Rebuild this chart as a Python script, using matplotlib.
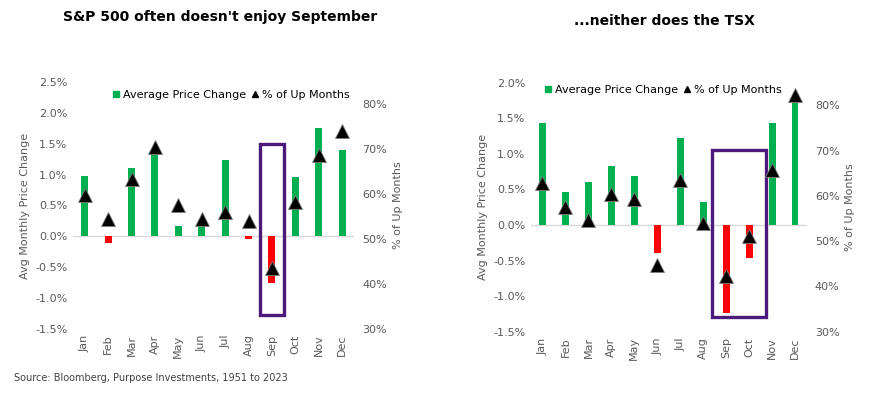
import matplotlib.pyplot as plt
from matplotlib.lines import Line2D
from matplotlib.patches import Rectangle
from matplotlib.ticker import FuncFormatter

months = ['Jan', 'Feb', 'Mar', 'Apr', 'May', 'Jun', 'Jul', 'Aug', 'Sep', 'Oct', 'Nov', 'Dec']

# S&P 500: average monthly price change (%) and % of up months
spx_change = [0.97, -0.10, 1.11, 1.40, 0.17, 0.19, 1.23, -0.04, -0.75, 0.96, 1.75, 1.40]
spx_up = [59.8, 54.6, 63.5, 70.6, 57.6, 54.6, 56.1, 54.0, 43.6, 58.2, 68.7, 74.1]

# TSX
tsx_change = [1.43, 0.46, 0.61, 0.83, 0.69, -0.40, 1.22, 0.32, -1.24, -0.46, 1.43, 1.78]
tsx_up = [62.9, 57.6, 54.6, 60.5, 59.2, 44.7, 63.5, 53.9, 42.3, 51.2, 65.8, 82.2]

GREEN = '#00b050'
RED = '#ff0000'
PURPLE = '#4b1a7a'
GREY = '#595959'

plt.rcParams['font.family'] = 'DejaVu Sans'

fig = plt.figure(figsize=(8.86, 4.03), dpi=100)


def draw_panel(rect, change, up, ylim, yticks, box, title, title_xy, leg_anchor):
    ax = fig.add_axes(rect)
    x = range(len(months))
    colors = [GREEN if v >= 0 else RED for v in change]
    ax.bar(x, change, width=0.3, color=colors, zorder=2)
    ax.axhline(0, color='#d9d9d9', lw=1, zorder=1)
    ax.set_xlim(-0.5, len(months) - 0.5)
    ax.set_ylim(*ylim)
    ax.set_yticks(yticks)
    ax.yaxis.set_major_formatter(FuncFormatter(lambda v, p: f'{v:.1f}%'))
    ax.set_xticks(list(x))
    ax.set_xticklabels(months, rotation=90)
    ax.tick_params(length=0, labelsize=8, colors=GREY, pad=4)
    ax.set_ylabel('Avg Monthly Price Change', fontsize=8, color=GREY)
    for s in ax.spines.values():
        s.set_visible(False)

    ax2 = ax.twinx()
    ax2.plot(x, up, linestyle='none', marker='^', markersize=10.5,
             color='black', markeredgecolor='#7f7f7f', markeredgewidth=0.6, zorder=3)
    ax2.set_ylim(30, 85)
    ax2.set_yticks([30, 40, 50, 60, 70, 80])
    ax2.yaxis.set_major_formatter(FuncFormatter(lambda v, p: f'{v:.0f}%'))
    ax2.tick_params(length=0, labelsize=8, colors=GREY, pad=6)
    ax2.set_ylabel('% of Up Months', fontsize=8, color=GREY, labelpad=4)
    for s in ax2.spines.values():
        s.set_visible(False)

    x0, x1, y0, y1 = box
    ax.add_patch(Rectangle((x0, y0), x1 - x0, y1 - y0, fill=False,
                           edgecolor=PURPLE, lw=2.4, zorder=4, clip_on=False))

    handles = [Line2D([], [], linestyle='none', marker='s', color=GREEN, markersize=5),
               Line2D([], [], linestyle='none', marker='^', color='black', markersize=5)]
    ax2.legend(handles, ['Average Price Change', '% of Up Months'], loc='upper right',
               bbox_to_anchor=leg_anchor, ncol=2, frameon=False, fontsize=8,
               handlelength=0.6, handletextpad=0.3, columnspacing=0.5, borderaxespad=0)

    fig.text(title_xy[0], title_xy[1], title, ha='center', va='center',
             fontsize=10, fontweight='bold', color='black')
    return ax


draw_panel([0.0824, 0.1836, 0.317, 0.613], spx_change, spx_up, (-1.5, 2.5),
           [-1.5, -1.0, -0.5, 0.0, 0.5, 1.0, 1.5, 2.0, 2.5],
           (7.5, 8.5, -1.28, 1.49), "S&P 500 often doesn't enjoy September", (0.248, 0.958),
           (1.0, 0.985))

draw_panel([0.5993, 0.1769, 0.311, 0.618], tsx_change, tsx_up, (-1.5, 2.0),
           [-1.5, -1.0, -0.5, 0.0, 0.5, 1.0, 1.5, 2.0],
           (7.37, 9.73, -1.30, 1.06), '...neither does the TSX', (0.75, 0.948),
           (0.925, 1.01))

fig.text(0.016, 0.062, 'Source: Bloomberg, Purpose Investments, 1951 to 2023',
         fontsize=7, color='#404040', ha='left', va='center')

fig.savefig('out.png', dpi=100)
